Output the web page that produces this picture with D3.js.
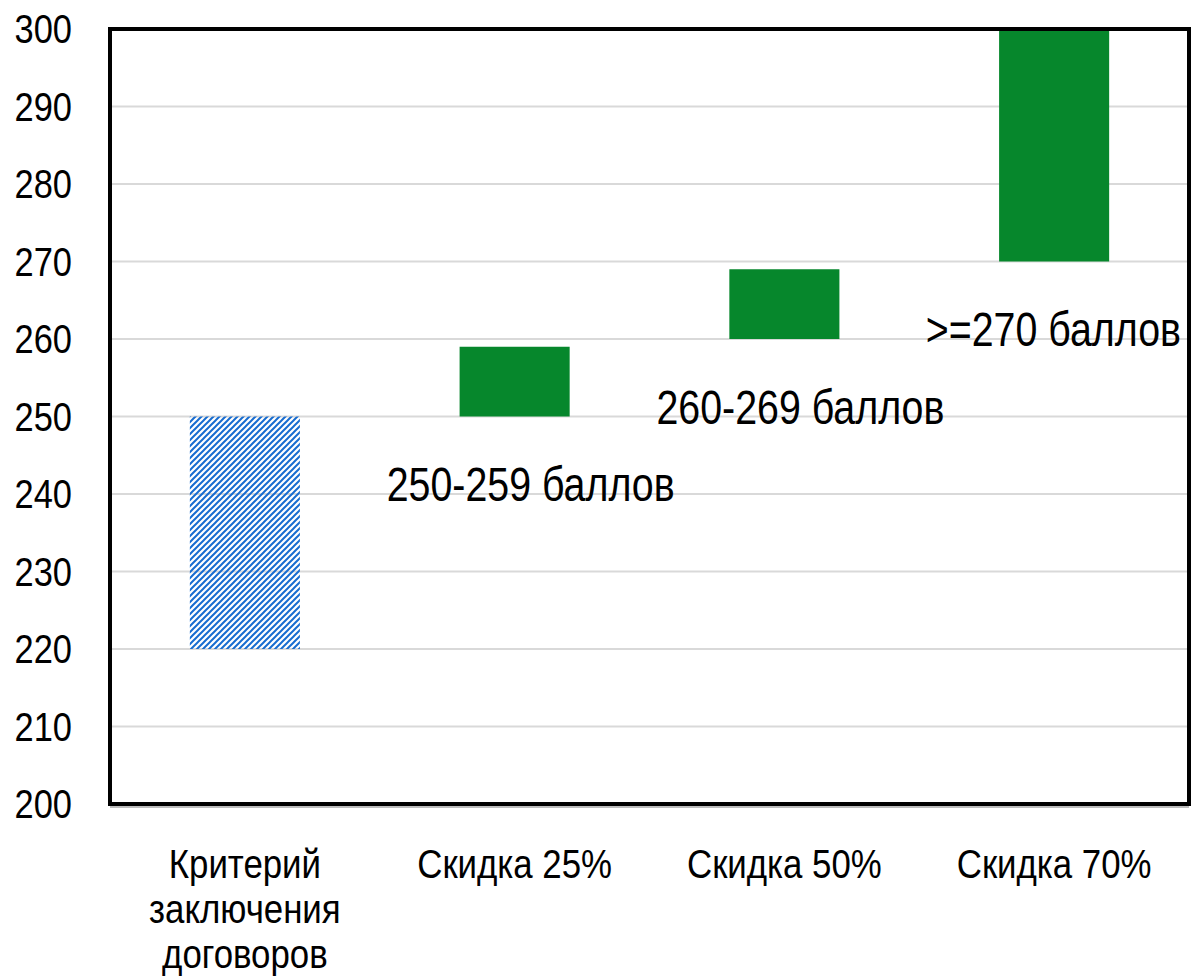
<!DOCTYPE html>
<html>
<head>
<meta charset="utf-8">
<script src="https://cdn.jsdelivr.net/npm/d3@7"></script>
<style>
  body { margin: 0; background: #fff; }
  svg { display: block; font-family: "Liberation Sans", Arial, sans-serif; }
</style>
</head>
<body>
<div id="chart"></div>
<script>
// data
const categories = [["Критерий", "заключения", "договоров"], ["Скидка 25%"], ["Скидка 50%"], ["Скидка 70%"]];
const bases = [220, 250, 260, 270];
const tops = [250, 259, 269, 300];
const labels = [null, "250-259 баллов", "260-269 баллов", ">=270 баллов"];
const yTicks = [200, 210, 220, 230, 240, 250, 260, 270, 280, 290, 300];

const width = 1191, height = 978;
const margin = { left: 110, right: 2, top: 29, bottom: 174 };
const narrow = 0.82; // no Arial Narrow here, squeeze Liberation Sans instead

const svg = d3.select("#chart").append("svg")
    .attr("width", width)
    .attr("height", height);

// hatch for the first bar
const pat = svg.append("defs").append("pattern")
    .attr("id", "hatch")
    .attr("patternUnits", "userSpaceOnUse")
    .attr("width", 6)
    .attr("height", 6);
pat.append("path")
    .attr("d", "M-1,7 L7,-1 M-1,1 L1,-1 M5,7 L7,5")
    .attr("stroke", "#176cd0")
    .attr("stroke-width", 2);

const x = d3.scaleBand()
    .domain(d3.range(categories.length))
    .range([margin.left, width - margin.right])
    .paddingInner(0.592)
    .paddingOuter(0.296);

const y = d3.scaleLinear()
    .domain([200, 300])
    .range([height - margin.bottom, margin.top]);

function squeeze(px, py, k = narrow) {
    return `translate(${px},${py}) scale(${k},1)`;
}

// gridlines
svg.append("g")
    .selectAll("line")
    .data(yTicks)
    .join("line")
    .attr("x1", margin.left)
    .attr("x2", width - margin.right)
    .attr("y1", d => y(d))
    .attr("y2", d => y(d))
    .attr("stroke", "#d9d9d9")
    .attr("stroke-width", 2);

// y tick labels
svg.append("g")
    .selectAll("text")
    .data(yTicks)
    .join("text")
    .attr("transform", d => squeeze(72, y(d), 0.84))
    .attr("dy", "0.35em")
    .attr("text-anchor", "end")
    .style("font-size", "41px")
    .text(d => d);

// bars
svg.append("g")
    .selectAll("rect")
    .data(bases)
    .join("rect")
    .attr("x", (d, i) => x(i))
    .attr("width", x.bandwidth())
    .attr("y", (d, i) => y(tops[i]))
    .attr("height", (d, i) => y(d) - y(tops[i]))
    .attr("fill", (d, i) => i == 0 ? "url(#hatch)" : "#06872c");

// bar labels, below each bar, pushed back inside the plot at the right edge
svg.append("g")
    .selectAll("text")
    .data(labels)
    .join("text")
    .attr("text-anchor", "middle")
    .style("font-size", "48px")
    .attr("dy", "0.35em")
    .text(d => d)
    .attr("transform", function (d, i) {
        if (!d) return null;
        const w = this.getComputedTextLength() * narrow;
        const cx = x(i) + x.bandwidth() / 2 + 16;
        return squeeze(Math.min(cx, width - margin.right - 8 - w / 2), y(bases[i]) + 68);
    });

// plot frame
svg.append("rect")
    .attr("x", margin.left)
    .attr("y", margin.top)
    .attr("width", width - margin.right - margin.left)
    .attr("height", y(200) - margin.top)
    .attr("fill", "none")
    .attr("stroke", "#000")
    .attr("stroke-width", 4);
svg.append("line")
    .attr("x1", margin.left)
    .attr("x2", width - margin.right)
    .attr("y1", y(200) + 3)
    .attr("y2", y(200) + 3)
    .attr("stroke", "#a6a6a6")
    .attr("stroke-width", 1.5);

// category labels
svg.append("g")
    .selectAll("text")
    .data(categories)
    .join("text")
    .attr("text-anchor", "middle")
    .attr("transform", (d, i) => squeeze(x(i) + x.bandwidth() / 2, y(200) + 74, 0.87))
    .style("font-size", "40px")
    .selectAll("tspan")
    .data(d => d)
    .join("tspan")
    .attr("x", 0)
    .attr("dy", (d, i) => i == 0 ? 0 : 45)
    .text(d => d);
</script>
</body>
</html>
